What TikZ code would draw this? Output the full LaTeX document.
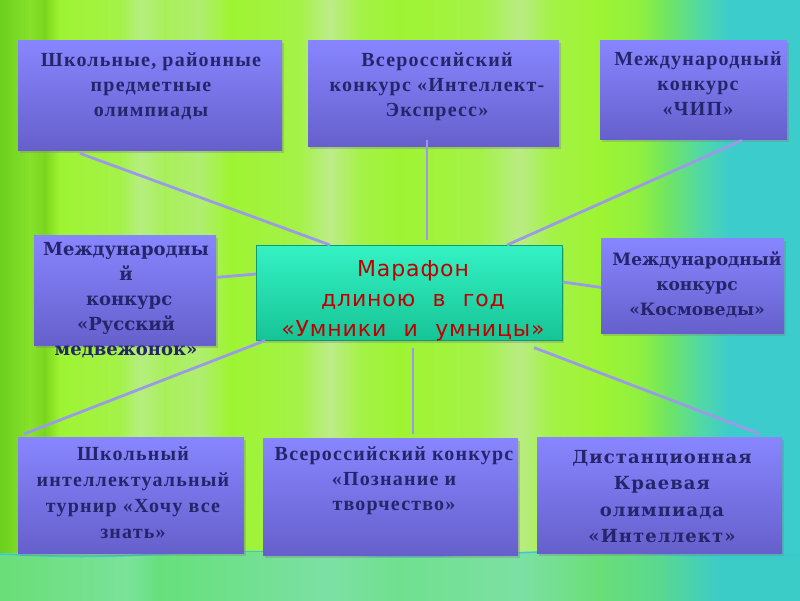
\documentclass[tikz,border=0pt]{standalone}
\usepackage{fontspec}
\setmainfont{Liberation Serif}
\newfontfamily\widefont{DejaVu Serif}
\newfontfamily\redfont[LetterSpace=4,WordSpace=2.2]{DejaVu Sans}
\usetikzlibrary{calc,shadows}
\definecolor{g0}{HTML}{6CCF1E}
\definecolor{g1}{HTML}{86E22A}
\definecolor{g2}{HTML}{7CD51E}
\definecolor{g3}{HTML}{9EF432}
\definecolor{g4}{HTML}{A4F248}
\definecolor{g5}{HTML}{B6EE80}
\definecolor{g6}{HTML}{A8F05A}
\definecolor{g7}{HTML}{B0EE70}
\definecolor{g8}{HTML}{BDEC8A}
\definecolor{g9}{HTML}{B9EC84}
\definecolor{g10}{HTML}{90F040}
\definecolor{g11}{HTML}{72E65E}
\definecolor{g12}{HTML}{52D8A4}
\definecolor{g13}{HTML}{3CCCCC}
\definecolor{h0}{HTML}{6ADE78}
\definecolor{h1}{HTML}{7AE29A}
\definecolor{h2}{HTML}{66E07C}
\definecolor{h3}{HTML}{7CE0A4}
\definecolor{h4}{HTML}{70E08E}
\definecolor{h5}{HTML}{5AD890}
\definecolor{h6}{HTML}{3CCCC8}
\definecolor{boxtop}{HTML}{8886FF}
\definecolor{boxbot}{HTML}{6660CC}
\definecolor{navy}{HTML}{25256B}
\definecolor{conn}{HTML}{9A9AE6}
\definecolor{ctop}{HTML}{34F2C4}
\definecolor{cbot}{HTML}{16C496}
\definecolor{cedge}{HTML}{0E9C6E}
\definecolor{redtxt}{HTML}{C00000}
\definecolor{wave}{HTML}{3AC8D8}
\tikzset{
  pbox/.style={draw=none, top color=boxtop, bottom color=boxbot, inner sep=0pt,
    anchor=north west, drop shadow={shadow xshift=2pt, shadow yshift=-3pt, opacity=0.35}},
  btxt/.style={anchor=north, inner sep=0pt, align=center, text=navy,
    font=\fontsize{20}{25}\selectfont\bfseries\addfontfeature{LetterSpace=6}},
  btxtb/.style={btxt, font=\fontsize{20}{26}\selectfont\bfseries\addfontfeature{LetterSpace=6}},
  wtxt/.style={anchor=north, inner sep=0pt, align=center, text=navy,
    font=\fontsize{17}{25}\selectfont\widefont\bfseries},
  wtxtl/.style={wtxt, font=\fontsize{18}{25}\selectfont\widefont\bfseries},
  wtxts/.style={wtxt, font=\fontsize{18}{26.5}\selectfont\widefont\bfseries\addfontfeature{LetterSpace=6}},
  link/.style={conn, line width=2.8pt}
}
\begin{document}
\begin{tikzpicture}[x=1pt,y=-1pt]
\useasboundingbox (0,0) rectangle (800,600);
% background stripes
\foreach \a/\b/\ca/\cb in {0/30/g0/g1,30/45/g1/g2,45/60/g2/g3,60/120/g3/g4,120/140/g4/g5,140/165/g5/g6,165/200/g6/g7,200/230/g7/g3,230/300/g3/g4,300/330/g4/g8,330/360/g8/g4,360/400/g4/g3,400/480/g3/g4,480/520/g4/g9,520/550/g9/g4,550/600/g4/g3,600/640/g3/g10,640/665/g10/g11,665/700/g11/g12,700/730/g12/g13,730/800/g13/g13}
  \fill[left color=\ca, right color=\cb] (\a-0.3,0) rectangle (\b,556);
\foreach \a/\b/\ca/\cb in {0/130/h0/h1,130/160/h1/h2,160/330/h2/h3,330/400/h3/h4,400/520/h4/h3,520/600/h3/h0,600/660/h0/h5,660/720/h5/h6,720/800/h6/h6}
  \fill[left color=\ca, right color=\cb] (\a-0.3,553) rectangle (\b,600);
\draw[wave, line width=1.5pt] plot[domain=0:800, samples=100] (\x, {554+2.5*sin(\x*1.1)});
% boxes
\node[pbox, minimum width=264pt, minimum height=110pt] (b1) at (18,40) {};
\node[pbox, minimum width=251pt, minimum height=106pt] (b2) at (308,40) {};
\node[pbox, minimum width=187pt, minimum height=99pt] (b3) at (600,40) {};
\node[pbox, minimum width=182pt, minimum height=110pt] (b4) at (34,235) {};
\node[draw=cedge, line width=0.6pt, top color=ctop, bottom color=cbot, inner sep=0pt, anchor=north west,
  minimum width=306pt, minimum height=95pt,
  drop shadow={shadow xshift=2pt, shadow yshift=-3pt, opacity=0.35}] (c) at (256,245) {};
\node[pbox, minimum width=183pt, minimum height=95pt] (b6) at (601,238) {};
\node[pbox, minimum width=226pt, minimum height=116pt] (b7) at (18,437) {};
\node[pbox, minimum width=255pt, minimum height=117pt] (b8) at (263,438) {};
\node[pbox, minimum width=245pt, minimum height=116pt] (b9) at (537,437) {};
% connectors
\coordinate (p1) at ($(b1.south west)+(62,3)$);
\coordinate (q1) at ($(c.north west)+(74,0)$);
\coordinate (p2) at ($(b2.south west)+(119,-6)$);
\coordinate (q2) at ($(c.north west)+(171,-5)$);
\coordinate (p3) at ($(b3.south west)+(142,1)$);
\coordinate (q3) at ($(c.north west)+(251,0)$);
\coordinate (p4) at ($(b4.south east)+(0,-68)$);
\coordinate (q4) at ($(c.north west)+(0,29)$);
\coordinate (p6) at ($(b6.south west)+(0,-46)$);
\coordinate (q6) at ($(c.north east)+(0,37)$);
\coordinate (q7) at ($(c.south west)+(9,0)$);
\coordinate (p7) at ($(b7.north west)+(6,-3)$);
\coordinate (q8) at ($(c.south west)+(157,7)$);
\coordinate (p8) at ($(b8.north west)+(150,-4)$);
\coordinate (q9) at ($(c.south west)+(278,7)$);
\coordinate (p9) at ($(b9.north west)+(223,-3)$);
\draw[link] (p1) -- (q1);
\draw[link] (p2) -- (q2);
\draw[link] (p3) -- (q3);
\draw[link] (p4) -- (q4);
\draw[link] (q6) -- (p6);
\draw[link] (q7) -- (p7);
\draw[link] (q8) -- (p8);
\draw[link] (q9) -- (p9);
% texts
\node[btxt] (t1) at (151,53) {Школьные, районные\\предметные\\олимпиады};
\node[btxt] (t2) at (437,53) {Всероссийский\\конкурс «Интеллект-\\Экспресс»};
\node[btxt] (t3) at (698,52) {Международный\\конкурс\\«ЧИП»};
\node[wtxtl] (t4) at (126,242) {Международны\\й\\\ конкурс\\«Русский\\медвежонок»};
\node[wtxt] (t6) at (697,251) {Международный\\конкурс\\«Космоведы»};
\node[btxtb] (t7) at (133,447) {Школьный\\интеллектуальный\\турнир «Хочу все\\знать»};
\node[btxt] (t8) at (394,447) {Всероссийский конкурс\\«Познание и\\творчество»};
\node[wtxts] (t9) at (662,450) {Дистанционная\\Краевая\\олимпиада\\«Интеллект»};
\node[anchor=north, inner sep=0pt, align=center, text=redtxt,
  font=\fontsize{22}{30}\selectfont\redfont] (tc) at (413,260) {Марафон\\длиною в год\\«Умники и умницы»};
\end{tikzpicture}
\end{document}
